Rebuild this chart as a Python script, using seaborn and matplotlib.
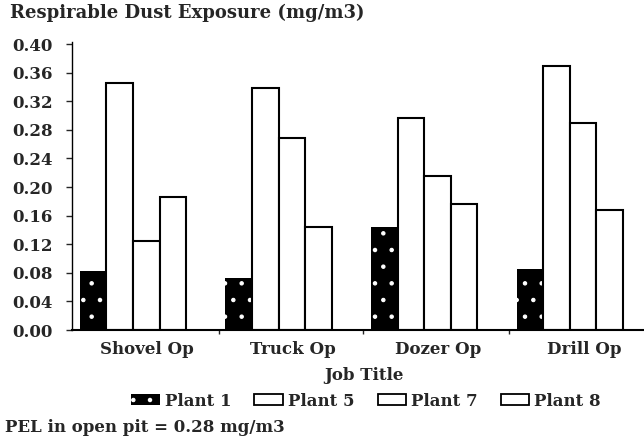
import pandas as pd
import matplotlib.pyplot as plt
import seaborn as sns
from matplotlib.patches import Patch

jobs = ["Shovel Op", "Truck Op", "Dozer Op", "Drill Op"]
plants = ["Plant 1", "Plant 5", "Plant 7", "Plant 8"]
plant1 = [0.083, 0.073, 0.144, 0.085]
plant5 = [0.346, 0.339, 0.296, 0.369]
plant7 = [0.125, 0.268, 0.216, 0.289]
plant8 = [0.186, 0.144, 0.176, 0.168]
yticks = [0.00, 0.04, 0.08, 0.12, 0.16, 0.20, 0.24, 0.28, 0.32, 0.36, 0.40]

rows = []
for name, vals in zip(plants, [plant1, plant5, plant7, plant8]):
    for job, v in zip(jobs, vals):
        rows.append({"job": job, "plant": name, "value": v})
df = pd.DataFrame(rows)

sns.set_style("white")
plt.rcParams["font.family"] = ["DejaVu Serif"]
plt.rcParams["font.weight"] = "bold"
plt.rcParams["hatch.linewidth"] = 0.8

fig = plt.figure(figsize=(6.44, 4.40), dpi=100)
ax = fig.add_axes([0.1118, 0.25, 0.888, 0.6545])

sns.barplot(data=df, x="job", y="value", hue="plant", order=jobs, hue_order=plants,
            palette=["black", "white", "white", "white"], edgecolor="black",
            linewidth=1.5, width=0.73, gap=0, legend=False, ax=ax)

# speckled fill for plant 1
for bar in ax.containers[0]:
    bar.set_hatch(".")
    bar.set_edgecolor("white")
    bar.set_linewidth(0)

ax.set_xlim(-0.419, 3.508)
ax.set_ylim(0, 0.403)
ax.set_yticks(yticks)
ax.set_yticklabels([f"{t:.2f}" for t in yticks])
ax.tick_params(axis="y", direction="out", length=4, width=1, pad=10, labelsize=12, left=True)

# category labels sit a bit right of the bar groups in the original
ax.set_xticks([i + 0.096 for i in range(len(jobs))])
ax.set_xticklabels(jobs)
ax.set_xticks([0.59, 1.58, 2.58], minor=True)
ax.tick_params(axis="x", which="major", length=0, pad=8, labelsize=12)
ax.tick_params(axis="x", which="minor", direction="out", length=3, width=1, bottom=True)

ax.set_xlabel("Job Title", fontsize=12, fontweight="bold")
ax.xaxis.set_label_coords(0.51, -0.128)
ax.set_ylabel("")

for s in ["top", "right"]:
    ax.spines[s].set_visible(False)
ax.spines["left"].set_linewidth(1)
ax.spines["bottom"].set_linewidth(1.5)
ax.spines["left"].set_color("black")
ax.spines["bottom"].set_color("black")

fig.text(10 / 644, 1 - 13 / 440, "Respirable Dust Exposure (mg/m3)",
         fontsize=13, fontweight="bold", ha="left", va="center")

handles = [Patch(facecolor="black", edgecolor="white", hatch=".", linewidth=0)]
handles += [Patch(facecolor="white", edgecolor="black", linewidth=1.3) for _ in plants[1:]]
fig.legend(handles, plants, loc="center", bbox_to_anchor=(366 / 644, 1 - 401 / 440),
           ncol=4, frameon=False, fontsize=12, handlelength=1.7, handleheight=0.6,
           handletextpad=0.3, columnspacing=1.4)

fig.text(5 / 644, 1 - 427 / 440, "PEL in open pit = 0.28 mg/m3",
         fontsize=12, fontweight="bold", ha="left", va="center")

fig.savefig("out.png", dpi=100)
